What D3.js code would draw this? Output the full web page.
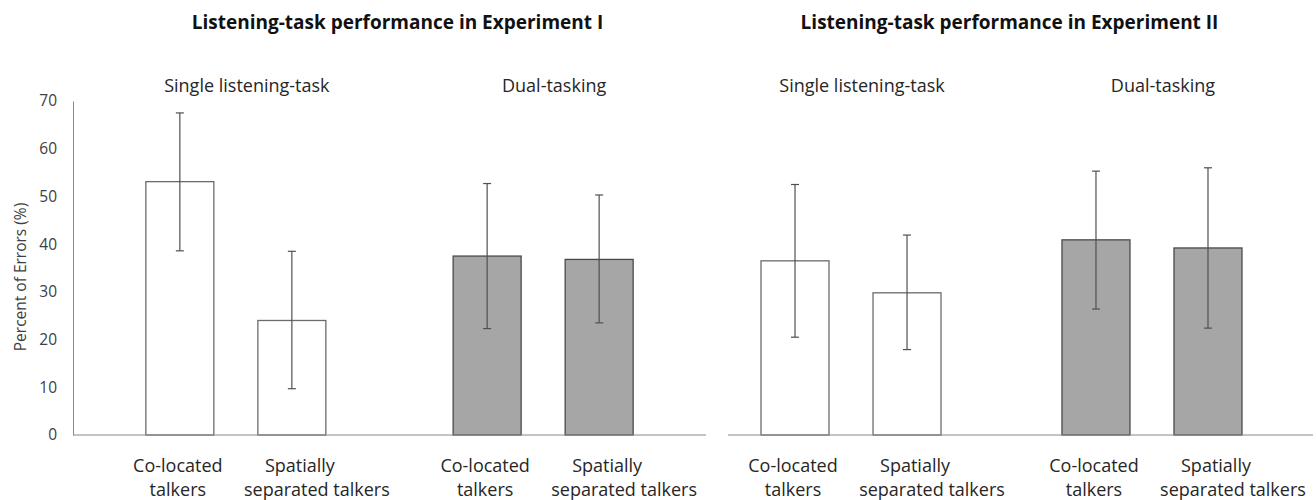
<!DOCTYPE html>
<html>
<head>
<meta charset="utf-8">
<script src="https://d3js.org/d3.v7.min.js"></script>
<style>
  body { margin: 0; background: #fff; }
  text { font-family: "Open Sans", sans-serif; }
</style>
</head>
<body>
<div id="chart"></div>
<script>
// chart values
var experiments = ["Listening-task performance in Experiment I", "Listening-task performance in Experiment II"];
var conditions = ["Single listening-task", "Dual-tasking"];
var talkers = ["Co-located talkers", "Spatially separated talkers"];
var talkerLines = [["Co-located", "talkers"], ["Spatially", "separated talkers"]];
var yTicks = [0, 10, 20, 30, 40, 50, 60, 70];

// one value per bar: single/co-located, single/separated, dual/co-located, dual/separated
var meansExp1 = [53.1, 24.0, 37.5, 36.8];
var highExp1 = [67.5, 38.5, 52.7, 50.3];
var lowExp1 = [38.6, 9.7, 22.3, 23.5];

var meansExp2 = [36.5, 29.8, 40.9, 39.2];
var highExp2 = [52.5, 41.9, 55.3, 56.0];
var lowExp2 = [20.5, 17.9, 26.4, 22.4];

var svgWidth = 1316;
var svgHeight = 500;

var svg = d3.select("#chart")
    .append("svg")
    .attr("width", svgWidth)
    .attr("height", svgHeight);

var yScale = d3.scaleLinear()
    .domain([0, 70])
    .range([435, 101]);

// panel layout: plot range for group centres and the drawn baseline
var panels = [
    { range: [73, 706], padding: 0.53, base: [73, 706], means: meansExp1, high: highExp1, low: lowExp1 },
    { range: [690, 1313], padding: 0.535, base: [728, 1313], means: meansExp2, high: highExp2, low: lowExp2 }
];

var inner = d3.scaleBand()
    .domain(talkers)
    .range([-90, 90])
    .paddingInner(0.393);

var fills = ["#ffffff", "#a6a6a6"];
var strokes = ["#6b6b6b", "#4a4a4a"];

// y axis on the first panel only
var leftAxis = d3.axisLeft(yScale)
    .tickValues(yTicks)
    .tickSize(0)
    .tickPadding(16);

var yAxis = svg.append("g")
    .attr("transform", "translate(73, 0)")
    .call(leftAxis);
yAxis.select(".domain").attr("stroke", "#8a8a8a");
yAxis.selectAll("text")
    .style("font-size", "15.5px")
    .attr("fill", "#404040");

svg.append("text")
    .attr("transform", "rotate(-90)")
    .attr("x", -277)
    .attr("y", 26)
    .attr("text-anchor", "middle")
    .style("font-size", "15.5px")
    .attr("fill", "#404040")
    .text("Percent of Errors (%)");

panels.forEach(function(p, pi) {
    var group = d3.scalePoint()
        .domain(conditions)
        .range(p.range)
        .padding(p.padding);

    var bars = [];
    conditions.forEach(function(c, ci) {
        talkers.forEach(function(t, ti) {
            var k = ci * 2 + ti;
            bars.push({ cond: c, ci: ci, talker: t, ti: ti, mean: p.means[k], hi: p.high[k], lo: p.low[k] });
        });
    });

    var g = svg.append("g");

    // title
    var mid = (group(conditions[0]) + group(conditions[1])) / 2;
    g.append("text")
        .attr("x", mid + 8)
        .attr("y", 29)
        .attr("text-anchor", "middle")
        .style("font-size", "19px")
        .style("font-weight", "bold")
        .attr("fill", "#111")
        .text(experiments[pi]);

    // condition headers
    g.selectAll(".cond")
        .data(conditions)
        .enter()
        .append("text")
        .attr("x", d => group(d) + 11)
        .attr("y", 92)
        .attr("text-anchor", "middle")
        .style("font-size", "18px")
        .attr("fill", "#262626")
        .text(d => d);

    g.selectAll(".bar")
        .data(bars)
        .enter()
        .append("rect")
        .attr("x", d => group(d.cond) + inner(d.talker))
        .attr("y", d => yScale(d.mean))
        .attr("width", inner.bandwidth())
        .attr("height", d => yScale(0) - yScale(d.mean))
        .attr("fill", d => fills[d.ci])
        .attr("stroke", d => strokes[d.ci])
        .attr("stroke-width", 1.3);

    // baseline
    g.append("line")
        .attr("x1", p.base[0])
        .attr("x2", p.base[1])
        .attr("y1", yScale(0))
        .attr("y2", yScale(0))
        .attr("stroke", "#8a8a8a")
        .attr("stroke-width", 1.2);

    // error bars
    var cx = d => group(d.cond) + inner(d.talker) + inner.bandwidth() / 2;
    var errs = g.selectAll(".err")
        .data(bars)
        .enter()
        .append("g")
        .attr("stroke", "#505050")
        .attr("stroke-width", 1.2);
    errs.append("line")
        .attr("x1", cx).attr("x2", cx)
        .attr("y1", d => yScale(d.hi))
        .attr("y2", d => yScale(d.lo));
    errs.append("line")
        .attr("x1", d => cx(d) - 4).attr("x2", d => cx(d) + 4)
        .attr("y1", d => yScale(d.hi))
        .attr("y2", d => yScale(d.hi));
    errs.append("line")
        .attr("x1", d => cx(d) - 4).attr("x2", d => cx(d) + 4)
        .attr("y1", d => yScale(d.lo))
        .attr("y2", d => yScale(d.lo));

    // category labels, two lines each
    var lineShift = [[-2, -2], [8, 25]];
    var labels = g.selectAll(".lab")
        .data(bars)
        .enter()
        .append("text")
        .attr("text-anchor", "middle")
        .style("font-size", "18px")
        .attr("fill", "#262626");
    labels.append("tspan")
        .attr("x", d => cx(d) + lineShift[d.ti][0])
        .attr("y", 472)
        .text(d => talkerLines[d.ti][0]);
    labels.append("tspan")
        .attr("x", d => cx(d) + lineShift[d.ti][1])
        .attr("y", 496)
        .text(d => talkerLines[d.ti][1]);
});
</script>
</body>
</html>
